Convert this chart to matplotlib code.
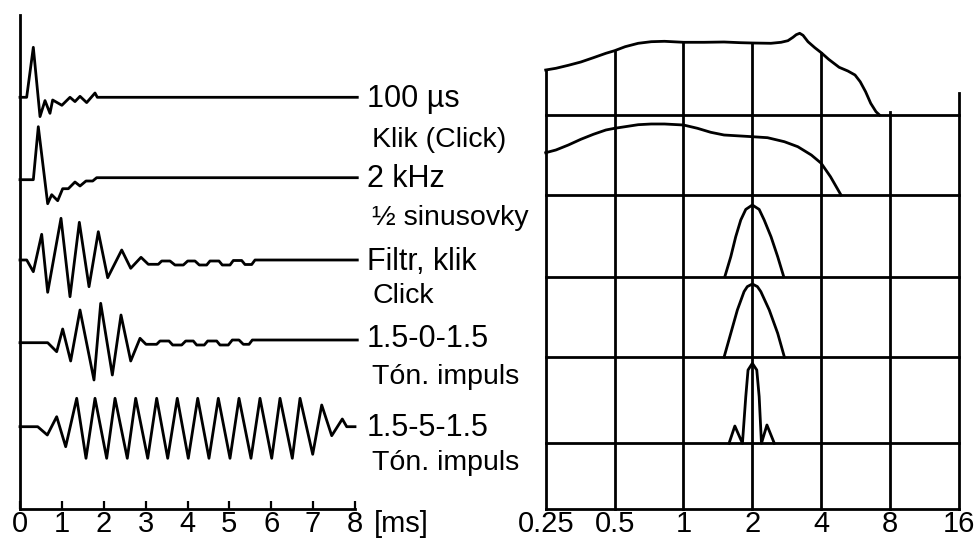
import numpy as np
import matplotlib
matplotlib.use('Agg')
import matplotlib.pyplot as plt

plt.rcParams['font.family'] = ['Liberation Sans', 'DejaVu Sans']

# ---- left panel: time signals, t in ms, amplitude in a.u. (px-like units)
click_t = [0, 0.159, 0.318, 0.478, 0.597, 0.716, 0.780, 1.0, 1.194, 1.313,
           1.433, 1.592, 1.791, 1.846, 8.055]
click_a = [0, 0, 50, -19.3, -3.3, -16, -2.7, -8, 0, -4.3, 1, -5.3, 4.3, 0, 0]

half_t = [0, 0.318, 0.437, 0.661, 0.757, 0.900, 1.019, 1.154, 1.313, 1.433,
          1.576, 1.736, 1.831, 8.055]
half_a = [-2, -2, 51, -26, -17, -23, -11, -11, -4.3, -8.3, -3.3, -3.3, 0, 0]

filt_t = [0, 0.160, 0.318, 0.518, 0.661, 0.979, 1.194, 1.417, 1.648, 1.870,
          2.094, 2.429, 2.644, 2.890, 3.064, 3.303, 3.384, 3.582, 3.701, 3.900,
          4.005, 4.179, 4.282, 4.458, 4.537, 4.752, 4.831, 5.015, 5.094, 5.294,
          5.373, 5.533, 5.612, 8.055]
filt_a = [0, 0, -11.7, 25.7, -32.3, 41.7, -36.7, 37.7, -26.7, 28.3,
          -17.7, 10, -8.3, 2.7, -4.3, -4.3, -1, -1, -5, -5,
          -1, -1, -5, -5, -1, -1, -5, -5, -0.5, -0.5,
          -4.5, -4.5, 0, 0]

burst0_t = [0, 0.661, 0.876, 1.019, 1.210, 1.433, 1.767, 1.927, 2.205, 2.412,
            2.644, 2.866, 3.009, 3.264, 3.343, 3.558, 3.646, 3.861, 3.957, 4.138,
            4.219, 4.401, 4.482, 4.697, 4.776, 4.974, 5.070, 5.230, 5.333, 5.469,
            5.548, 8.055]
burst0_a = [-0.7, -0.7, -9.7, 13, -19, 32, -38, 38.7, -33, 27,
            -19, 3.7, -2.3, -2.3, 1, 1, -3, -3, 1, 1,
            -3, -3, 1, 1, -3, -3, 2, 2, -2.3, -2.3,
            2, 2]

burst5_t = [0, 0.423, 0.652, 0.876, 1.091, 1.354, 1.576, 1.791, 2.070, 2.269,
            2.562, 2.763, 3.050, 3.264, 3.527, 3.756, 4.019, 4.244, 4.513, 4.736,
            5.015, 5.230, 5.516, 5.731, 6.011, 6.209, 6.503, 6.687, 6.990, 7.205,
            7.444, 7.697, 7.802, 8.0]
burst5_a = [0, 0, -8.3, 10, -20, 28.4, -31.6, 28.4, -31.6, 28.4,
            -31.6, 28.4, -31.6, 28.4, -31.6, 28.4, -31.6, 28.4, -31.6, 28.4,
            -31.6, 28.4, -31.6, 28.4, -31.6, 28.4, -31.6, 28.4, -27.6, 21.7,
            -9, 7.7, 0, 0]

signals = [(click_t, click_a), (half_t, half_a), (filt_t, filt_a),
           (burst0_t, burst0_a), (burst5_t, burst5_a)]
big_labels = ['100 µs', '2 kHz', 'Filtr, klik', '1.5-0-1.5', '1.5-5-1.5']
small_labels = ['Klik (Click)', '½ sinusovky', 'Click', 'Tón. impuls', 'Tón. impuls']
time_ticks = [0, 1, 2, 3, 4, 5, 6, 7, 8]

# ---- right panel: spectra, f in kHz, level in a.u.
click_f = [0.25, 0.277, 0.314, 0.356, 0.404, 0.458, 0.5, 0.556, 0.634, 0.723,
           0.826, 1.0, 1.231, 1.504, 1.779, 2.0, 2.41, 2.67, 2.86, 3.01,
           3.11, 3.22, 3.33, 3.50, 3.75, 4.0, 4.31, 4.79, 5.23, 5.62,
           5.92, 6.25, 6.58, 6.94, 7.19]
click_s = [45, 46.7, 49.7, 53, 57.3, 61.7, 64.3, 68.3, 71.7, 73.3,
           73.7, 72.7, 72.7, 73, 72.3, 72, 71.7, 72.7, 74.3, 77.7,
           80.3, 81.7, 79.7, 73.3, 67.3, 62.3, 55.7, 47.7, 44, 40,
           33.3, 23.3, 11.7, 3.3, 0]

half_f = [0.25, 0.277, 0.314, 0.356, 0.404, 0.458, 0.5, 0.556, 0.634, 0.723,
          0.826, 1.0, 1.151, 1.316, 1.504, 1.779, 2.0, 2.33, 2.76, 3.16,
          3.62, 4.0, 4.39, 4.88]
half_s = [42.3, 45, 50, 55.7, 60.7, 65, 66.7, 68.3, 70.3, 71,
          71, 70, 66.7, 62.7, 60, 59, 58.3, 57.3, 53.3, 48.3,
          40, 31.7, 18.3, 0]

filt_f = [1.516, 1.610, 1.692, 1.780, 1.872, 2.0, 2.142, 2.253, 2.413, 2.581, 2.743]
filt_s = [0, 20, 40, 56.7, 67.3, 71.7, 67.3, 56.7, 40, 20, 0]

burst0_f = [1.504, 1.610, 1.720, 1.840, 1.901, 2.0, 2.104, 2.178, 2.371, 2.581, 2.763]
burst0_s = [0, 24, 47.3, 65.7, 70.7, 73.3, 70.7, 65.7, 47.3, 24, 0]

burst5_f = [1.582, 1.677, 1.810, 1.872, 1.915, 2.0, 2.091, 2.142, 2.192, 2.316, 2.495]
burst5_s = [0, 17.3, 0, 46.7, 73.3, 80, 73.3, 46.7, 0, 18.3, 0]

spectra = [(click_f, click_s), (half_f, half_s), (filt_f, filt_s),
           (burst0_f, burst0_s), (burst5_f, burst5_s)]
freq_ticks = [0.25, 0.5, 1, 2, 4, 8, 16]
freq_labels = ['0.25', '0.5', '1', '2', '4', '8', '16']
grid_over = [3, 22]   # how far the 8 and 16 kHz lines poke above the top row

# layout (vertical units = pixels from the bottom axis)
sig_base = [411.7, 331.3, 249, 167, 82.3]
spec_base = [394, 314, 232.3, 151.7, 65.7]
big_y = [402.3, 322.3, 239, 162.3, 73]
small_y = [362.3, 284, 205.7, 125, 39]

lw = 2.0
fig = plt.figure(figsize=(9.76, 5.39), dpi=100)
axL = fig.add_axes([20 / 976, 30 / 539, 335 / 976, 494 / 539])
axR = fig.add_axes([545.7 / 976, 30 / 539, 413.3 / 976, 494 / 539])

# left: waveforms
for (t, a), b in zip(signals, sig_base):
    axL.plot(t, np.array(a) + b, color='black', lw=lw, clip_on=False)
for lab, y in zip(big_labels, big_y):
    axL.text(8.28, y, lab, fontsize=22, va='baseline', ha='left')
for lab, y in zip(small_labels, small_y):
    axL.text(8.41, y, lab, fontsize=20.5, va='baseline', ha='left')

axL.set_xlim(0, 8)
axL.set_ylim(0, 494)
axL.set_xticks(time_ticks)
axL.set_yticks([])
axL.tick_params(axis='x', direction='in', length=6, width=1.6, labelsize=21, pad=1)
for s in ['top', 'right']:
    axL.spines[s].set_visible(False)
for s in ['left', 'bottom']:
    axL.spines[s].set_linewidth(2.0)
axL.text(8.45, -1.5, '[ms]', fontsize=21, va='top', ha='left')

# right: spectra on a log2 frequency grid
for (f, s), b in zip(spectra, spec_base):
    axR.plot(f, np.array(s) + b, color='black', lw=lw, clip_on=False)

top_f = np.log2(click_f)
for i, fq in enumerate(freq_ticks):
    if fq <= 4:
        top = spec_base[0] + np.interp(np.log2(fq), top_f, click_s)
    else:
        top = spec_base[0] + grid_over[i - 5]
    axR.plot([fq, fq], [0, top], color='black', lw=lw, clip_on=False)
for b in spec_base + [0]:
    axR.plot([freq_ticks[0], freq_ticks[-1]], [b, b], color='black', lw=lw, clip_on=False)

axR.set_xscale('log', base=2)
axR.set_xlim(0.25, 16)
axR.set_ylim(0, 494)
axR.set_xticks(freq_ticks)
axR.set_xticklabels(freq_labels)
axR.minorticks_off()
axR.set_yticks([])
axR.tick_params(axis='x', length=0, labelsize=21, pad=1)
for s in axR.spines.values():
    s.set_visible(False)

fig.savefig('out.png', dpi=100)
